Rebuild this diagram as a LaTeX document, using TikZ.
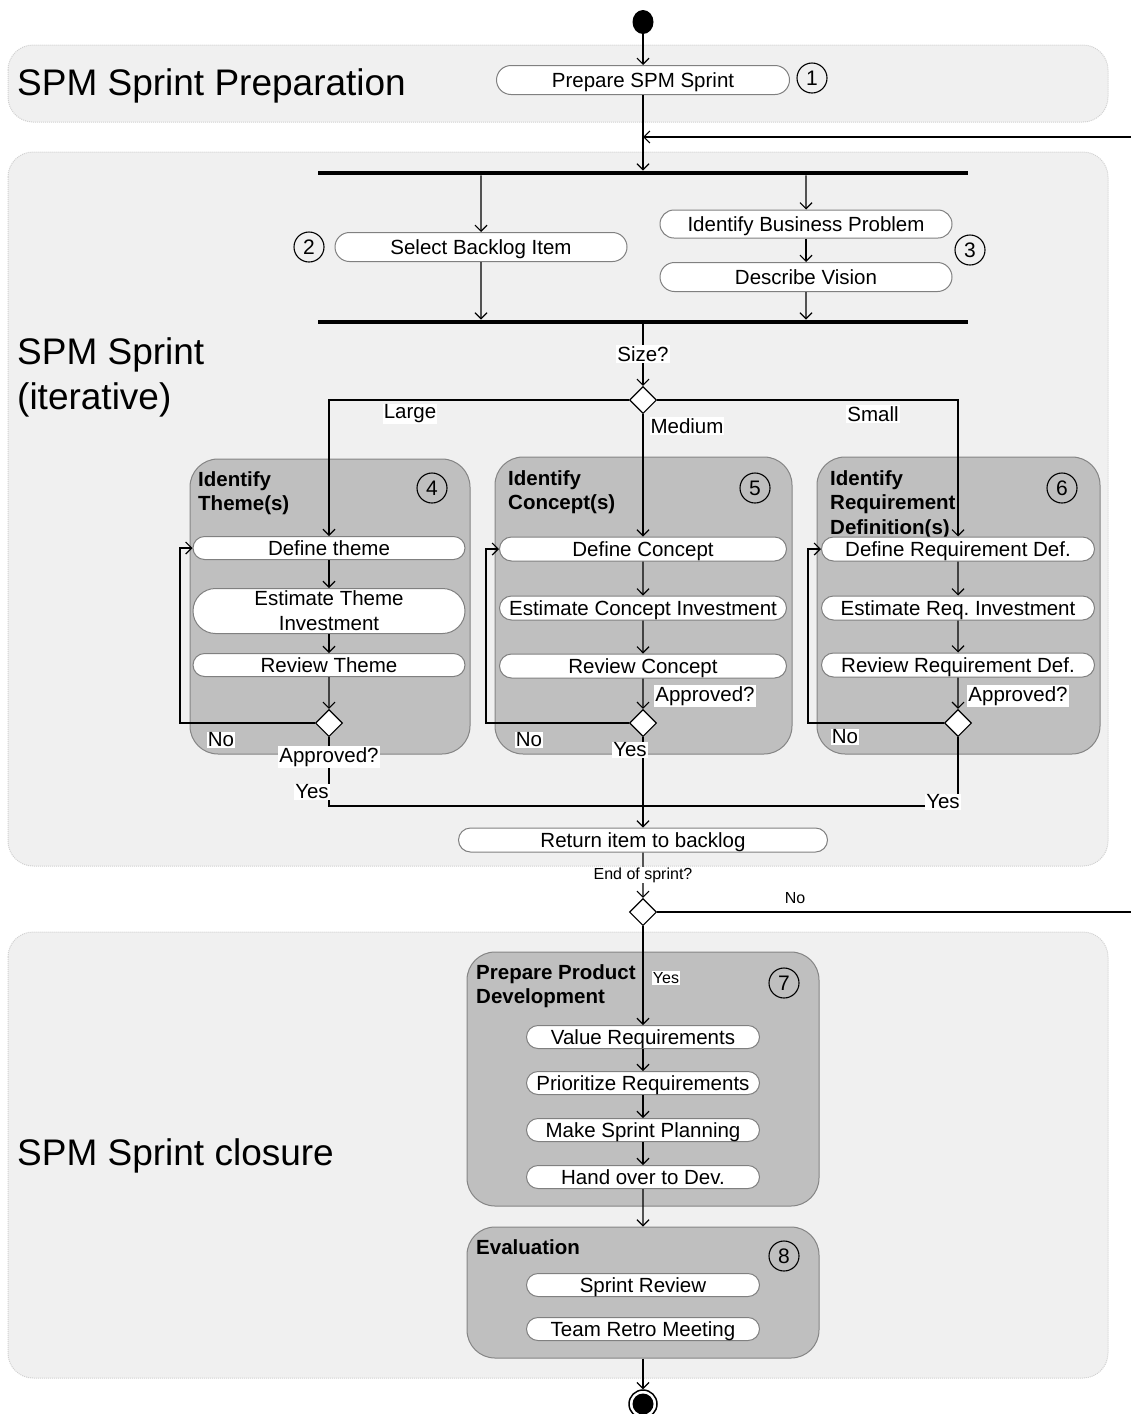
\documentclass[tikz,border=0pt]{standalone}
\usepackage{fontspec}
\setmainfont{Liberation Sans}
\usetikzlibrary{arrows.meta,shapes.misc,shapes.geometric}
\frenchspacing

\newcommand\lanefont{\fontsize{37}{45}\selectfont}
\newcommand\pillfont{\fontsize{20.5}{25}\selectfont}
\newcommand\grpfont{\fontsize{20.5}{24.5}\selectfont\bfseries}
\newcommand\smallfont{\fontsize{16}{19}\selectfont}

\begin{document}
\begin{tikzpicture}[
  x=1pt, y=-1pt,
  lane/.style={draw=black!18, dash pattern=on 1pt off 1pt, fill=black!6, rounded corners=25pt, line width=1pt},
  grp/.style={draw=black!48, fill=black!25, rounded corners=28pt, line width=1pt, inner sep=0pt},
  pill/.style={rounded rectangle, draw=black!50, fill=white, line width=1pt, inner sep=0pt, font=\pillfont, align=center, text height=15pt, text depth=0.5pt},
  num/.style={circle, draw, line width=1.1pt, minimum size=30pt, inner sep=0pt, font=\fontsize{21}{24}\selectfont},
  dec/.style={diamond, draw, fill=white, line width=1.1pt, minimum width=27pt, minimum height=27pt, inner sep=0pt},
  bar/.style={fill=black, minimum width=650pt, minimum height=4.5pt, inner sep=0pt},
  line/.style={line width=1.2pt},
  flow/.style={line width=1.2pt, -{Straight Barb[length=6pt,width=12pt]}},
  lab/.style={font=\pillfont, inner sep=1pt},
  wlab/.style={lab, fill=white},
  slab/.style={font=\smallfont, inner sep=1pt},
  gtitle/.style={font=\grpfont, align=left, anchor=north west, inner sep=0pt},
  ltitle/.style={font=\lanefont, align=left, anchor=north west, inner sep=0pt}
]
\useasboundingbox[fill=white] (0,0) rectangle (1131,1414);

% swimlanes
\draw[lane] (8,45) rectangle (1108,122);
\draw[lane] (8,152) rectangle (1108,866);
\draw[lane] (8,932) rectangle (1108,1378);
\node[ltitle] (t1) at (17,68) {SPM Sprint Preparation};
\node[ltitle] (t2) at (17,337) {SPM Sprint\\(iterative)};
\node[ltitle] (t3) at (17,1138) {SPM Sprint closure};

% grouping boxes
\node[grp, minimum width=280pt, minimum height=295pt] (g4) at (330,606.5) {};
\node[grp, minimum width=297pt, minimum height=297pt] (g5) at (643.5,605.5) {};
\node[grp, minimum width=283pt, minimum height=297pt] (g6) at (958.5,605.5) {};
\node[grp, minimum width=352pt, minimum height=254pt] (g7) at (643,1079) {};
\node[grp, minimum width=352pt, minimum height=131pt] (g8) at (643,1292.5) {};
\node[gtitle] (gt4) at (198,471) {Identify\\Theme(s)};
\node[gtitle] (gt5) at (508,470) {Identify\\Concept(s)};
\node[gtitle] (gt6) at (830,470) {Identify\\Requirement\\Definition(s)};
\node[gtitle] (gt7) at (476,964) {Prepare Product\\Development};
\node[gtitle] (gt8) at (476,1239) {Evaluation};

% start / end
\node[ellipse, fill=black, minimum width=21pt, minimum height=24pt, inner sep=0pt] (start) at (643,22) {};
\node[circle, draw, line width=1.5pt, fill=white, minimum size=28pt, inner sep=0pt,
      path picture={\fill[black] (path picture bounding box.center) circle (10.5pt);}] (end) at (643,1404) {};

% preparation
\node[pill, minimum width=293pt, minimum height=29pt] (prep) at (643,80) {Prepare SPM Sprint};
\coordinate (merge) at (643,137);

% fork / join
\node[bar] (fork) at (643,173) {};
\node[pill, minimum width=292pt, minimum height=29pt] (sel) at (481,247) {Select Backlog Item};
\node[pill, minimum width=292pt, minimum height=28pt] (ibp) at (806,224) {Identify Business Problem};
\node[pill, minimum width=292pt, minimum height=29pt] (dv) at (806,277) {Describe Vision};
\node[bar] (join) at (643,322) {};
\node[dec] (size) at (643,400) {};

% themes
\node[pill, minimum width=272pt, minimum height=23pt] (dt) at (329,548) {Define theme};
\node[pill, minimum width=272pt, minimum height=45pt, text height=, text depth=] (et) at (329,611) {Estimate Theme\\Investment};
\node[pill, minimum width=272pt, minimum height=23pt] (rt) at (329,665) {Review Theme};
\node[dec] (d4) at (329,723) {};

% concepts
\node[pill, minimum width=287pt, minimum height=24pt] (dc) at (643,549) {Define Concept};
\node[pill, minimum width=287pt, minimum height=24pt] (ec) at (643,608) {Estimate Concept Investment};
\node[pill, minimum width=287pt, minimum height=24pt] (rc) at (643,666) {Review Concept};
\node[dec] (d5) at (643,723) {};

% requirement definitions
\node[pill, minimum width=273pt, minimum height=24pt] (dr) at (958,549) {Define Requirement Def.};
\node[pill, minimum width=273pt, minimum height=24pt] (er) at (958,608) {Estimate Req. Investment};
\node[pill, minimum width=273pt, minimum height=24pt] (rr) at (958,665) {Review Requirement Def.};
\node[dec] (d6) at (958,723) {};

\node[pill, minimum width=369pt, minimum height=24pt] (ret) at (643,840) {Return item to backlog};
\node[dec] (eos) at (643,912) {};

% closure
\node[pill, minimum width=233pt, minimum height=23pt] (vr) at (643,1037) {Value Requirements};
\node[pill, minimum width=233pt, minimum height=23pt] (pr) at (643,1083) {Prioritize Requirements};
\node[pill, minimum width=233pt, minimum height=23pt] (ms) at (643,1130) {Make Sprint Planning};
\node[pill, minimum width=233pt, minimum height=23pt] (ho) at (643,1177) {Hand over to Dev.};
\node[pill, minimum width=233pt, minimum height=23pt] (sr) at (643,1285) {Sprint Review};
\node[pill, minimum width=233pt, minimum height=23pt] (tr) at (643,1329) {Team Retro Meeting};

% step numbers
\node[num] (n1) at (812,78) {1};
\node[num] (n2) at (309,247) {2};
\node[num] (n3) at (970,250) {3};
\node[num] (n4) at (432,488) {4};
\node[num] (n5) at (755,488) {5};
\node[num] (n6) at (1062,488) {6};
\node[num] (n7) at (784,983) {7};
\node[num] (n8) at (784,1256) {8};

% helper corners
\coordinate (back) at (1133,912);
\coordinate (lp4) at (180,723);
\coordinate (lp5) at (486,723);
\coordinate (lp6) at (808,723);
\coordinate (ybus) at (643,806);

% flows
\draw[flow] (start) -- (prep);
\draw[line] (prep) -- (merge);
\draw[flow] (merge) -- (fork);
\draw[flow] (eos.east) -- (back) |- (merge);
\draw[flow] (fork.south -| sel) -- (sel);
\draw[flow] (fork.south -| ibp) -- (ibp);
\draw[flow] (ibp) -- (dv);
\draw[flow] (sel) -- (join.north -| sel);
\draw[flow] (dv) -- (join.north -| dv);
\draw[flow] (join) -- (size);
\draw[flow] (size.west) -| (dt);
\draw[flow] (size) -- (dc);
\draw[flow] (size.east) -| (dr);

\draw[flow] (dt) -- (et);
\draw[flow] (et) -- (rt);
\draw[flow] (rt) -- (d4);
\draw[flow] (d4.west) -- (lp4) |- (dt.west);

\draw[flow] (dc) -- (ec);
\draw[flow] (ec) -- (rc);
\draw[flow] (rc) -- (d5);
\draw[flow] (d5.west) -- (lp5) |- (dc.west);

\draw[flow] (dr) -- (er);
\draw[flow] (er) -- (rr);
\draw[flow] (rr) -- (d6);
\draw[flow] (d6.west) -- (lp6) |- (dr.west);

\draw[line] (d4.south) |- (ybus);
\draw[line] (d6.south) |- (ybus);
\draw[flow] (d5) -- (ret);
\draw[flow] (ret) -- (eos);
\draw[flow] (eos) -- (vr);
\draw[flow] (vr) -- (pr);
\draw[flow] (pr) -- (ms);
\draw[flow] (ms) -- (ho);
\draw[flow] (ho) -- (g8.north);
\draw[flow] (g8.south) -- (end);

% guard and branch labels
\node[wlab] (lsize) at (643,354) {Size?};
\node[wlab] (llarge) at (410,414) {Large};
\node[wlab] (lmed) at (687,426) {Medium};
\node[wlab] (lsmall) at (873,414) {Small};
\node[wlab] (lno4) at (221,740) {No};
\node[wlab] (lap4) at (329,757) {Approved?};
\node[wlab] (lyes4) at (312,792) {Yes};
\node[wlab] (lap5) at (705,696) {Approved?};
\node[wlab] (lno5) at (529,740) {No};
\node[wlab] (lyes5) at (630,750) {Yes};
\node[wlab] (lap6) at (1018,696) {Approved?};
\node[wlab] (lno6) at (845,737) {No};
\node[wlab] (lyes6) at (943,802) {Yes};
\node[slab, fill=white] (leos) at (643,875) {End of sprint?};
\node[slab] (lno) at (795,898) {No};
\node[slab, fill=white] (lyes) at (666,978) {Yes};
\end{tikzpicture}
\end{document}
